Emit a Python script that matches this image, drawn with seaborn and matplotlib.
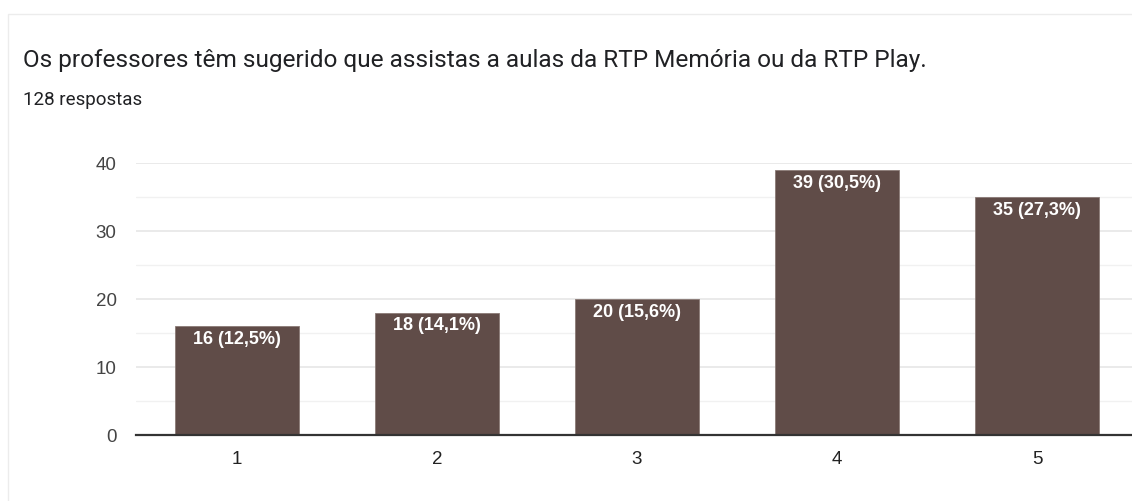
import pandas as pd
import matplotlib.pyplot as plt
import seaborn as sns
from matplotlib.patches import Rectangle
from matplotlib.ticker import MultipleLocator

# data
categories = ["1", "2", "3", "4", "5"]
counts = [16, 18, 20, 39, 35]
bar_labels = ["16 (12,5%)", "18 (14,1%)", "20 (15,6%)", "39 (30,5%)", "35 (27,3%)"]
title = "Os professores têm sugerido que assistas a aulas da RTP Memória ou da RTP Play."
subtitle = "128 respostas"

df = pd.DataFrame({"Resposta": categories, "Contagem": counts})

sns.set_style("white")
plt.rcParams["font.family"] = ["Liberation Sans", "DejaVu Sans"]

fig = plt.figure(figsize=(11.32, 5.02), dpi=100)
W, H = 1132, 502

# card border
fig.patches.append(Rectangle((8 / W, -0.1), 1.2, 1 - 15 / H + 0.1,
                             transform=fig.transFigure, fill=False,
                             edgecolor="#ececec", linewidth=1))

fig.text(23 / W, 1 - 61 / H, title, family="Roboto", fontsize=17.6,
         color="#202124", va="center", ha="left")
fig.text(23 / W, 1 - 100 / H, subtitle, family="Roboto", fontsize=13.5,
         color="#202124", va="center", ha="left")

ax = fig.add_axes([136 / W, 1 - 436 / H, 1 - 136 / W, (436 - 164) / H])

sns.barplot(data=df, x="Resposta", y="Contagem", color="#604c48",
            saturation=1, width=0.62, edgecolor="#8a7a76", linewidth=0.6,
            ax=ax, zorder=3)

ax.set_ylim(0, 40)
ax.set_xlim(-0.505, 4.475)
ax.yaxis.set_major_locator(MultipleLocator(10))
ax.yaxis.set_minor_locator(MultipleLocator(5))
ax.grid(True, axis="y", which="major", color="#e6e6e6", linewidth=1.2, zorder=0)
ax.grid(True, axis="y", which="minor", color="#f1f1f1", linewidth=1.0, zorder=0)
ax.set_axisbelow(True)

for side in ["top", "right", "left"]:
    ax.spines[side].set_visible(False)
ax.spines["bottom"].set_color("#333333")
ax.spines["bottom"].set_linewidth(1.6)
ax.spines["bottom"].set_zorder(4)

ax.tick_params(axis="both", length=0, labelsize=13.5, colors="#444444")
ax.tick_params(axis="y", pad=14)
ax.tick_params(axis="x", pad=11, labelcolor="#222222")
ax.set_xlabel("")
ax.set_ylabel("")

ax.bar_label(ax.containers[0], labels=bar_labels, label_type="edge",
             padding=-15, color="white", fontsize=13, fontweight="bold",
             zorder=5)

fig.savefig("out.png", dpi=100)
